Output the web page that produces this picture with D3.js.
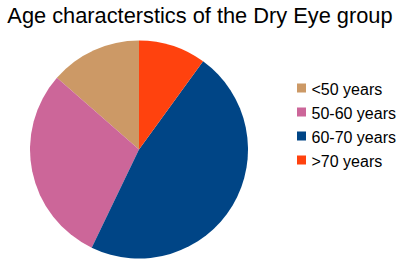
<!DOCTYPE html>
<html lang="en">
<head>
<meta charset="UTF-8">
<title>Age characterstics of the Dry Eye group</title>
<style>
  body { margin: 0; background: #fff; }
  svg { display: block; font-family: "Liberation Sans", Arial, sans-serif; }
</style>
</head>
<body>
<svg id="chart" width="405" height="266"></svg>
<script src="https://d3js.org/d3.v7.min.js"></script>
<script>
// data
const groups = ["<50 years", "50-60 years", "60-70 years", ">70 years"];
const counts = [19, 41, 66, 14];
const colors = ["#CC9966", "#CC6699", "#004586", "#FF420E"];
const title = "Age characterstics of the Dry Eye group";

const svg = d3.select("#chart");

svg.append("text")
  .attr("x", 200)
  .attr("y", 22.5)
  .attr("text-anchor", "middle")
  .style("font-size", "21.8px")
  .text(title);

const cx = 139, cy = 149.5, r = 109;

// slices go counter-clockwise from 12 o'clock
const pie = d3.pie().sort(null).startAngle(0).endAngle(-2 * Math.PI);
const arc = d3.arc().innerRadius(0).outerRadius(r);
const color = d3.scaleOrdinal().domain(groups).range(colors);

svg.append("g")
  .attr("transform", "translate(" + cx + "," + cy + ")")
  .selectAll("path")
  .data(pie(counts))
  .enter()
  .append("path")
  .attr("d", arc)
  .attr("fill", (d, i) => color(groups[i]));

// legend
const y = d3.scalePoint().domain(groups).range([88, 160]);
const legend = svg.append("g").selectAll("g")
  .data(groups)
  .enter()
  .append("g")
  .attr("transform", d => "translate(297," + y(d) + ")");

legend.append("rect")
  .attr("x", 0)
  .attr("y", -4.5)
  .attr("width", 9)
  .attr("height", 9)
  .attr("fill", d => color(d));

legend.append("text")
  .attr("x", 14.5)
  .attr("y", 6.5)
  .style("font-size", "16px")
  .text(d => d);
</script>
</body>
</html>
